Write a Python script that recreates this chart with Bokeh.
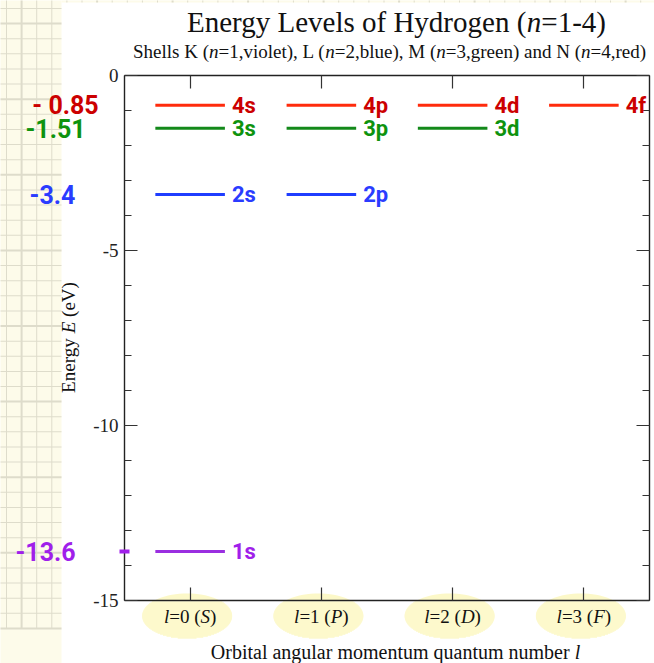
import math
from bokeh.plotting import figure
from bokeh.models import (Range1d, LinearAxis, FixedTicker, CustomJSTickFormatter,
                          ColumnDataSource, Grid)
from bokeh.core.properties import value
from bokeh.embed import file_html
from bokeh.resources import INLINE

# ---------------- data ----------------
n_levels = [1, 2, 3, 4]
shell_names = ["K", "L", "M", "N"]
shell_color_names = ["violet", "blue", "green", "red"]
energies_eV = [-13.6, -3.4, -1.51, -0.85]
shell_colors = ["#9a2fe0", "#1f3dff", "#13891a", "#ff2b0c"]
note_colors = ["#a01fea", "#2a3cff", "#0e930e", "#cc0000"]
energy_notes = ["-13.6", "-3.4", "-1.51", "- 0.85"]
l_values = [0, 1, 2, 3]
orbital_letters = ["S", "P", "D", "F"]
sub_letters = ["s", "p", "d", "f"]
y_major_ticks = [0, -5, -10, -15]
y_minor_ticks = list(range(-15, 1))

# ---------------- layout helpers ----------------
W, H = 654, 663
FL, FR, FT, FB = 124, 649, 75, 600
X0, X1 = -0.5, 3.5
Y0, Y1 = -15.0, 0.0
MID = 0.3375  # em-box middle above the baseline (Times metrics)


def px2x(px):
    return X0 + (px - FL) / (FR - FL) * (X1 - X0)


def px2y(py):
    return Y1 - (py - FT) / (FB - FT) * (Y1 - Y0)


def x2px(x):
    return FL + (x - X0) / (X1 - X0) * (FR - FL)


ROMAN = dict(zip(" (),-.=0123456789", [250, 333, 333, 250, 333, 250, 564] + [500] * 10))
ROMAN.update(zip("ABCDEFGHIJKLMNOPQRSTUVWXYZ",
                 [722, 667, 667, 722, 611, 556, 722, 722, 333, 389, 722, 611, 889,
                  722, 722, 556, 722, 667, 556, 611, 722, 722, 944, 722, 722, 611]))
ROMAN.update(zip("abcdefghijklmnopqrstuvwxyz",
                 [444, 500, 444, 500, 444, 333, 500, 500, 278, 278, 500, 278, 778,
                  500, 500, 500, 500, 333, 389, 278, 500, 500, 722, 500, 500, 444]))
ITAL = {"n": 500, "l": 278, "E": 611, "S": 500, "P": 611, "D": 722, "F": 611}

SERIF = "Liberation Serif"
HAND = "Roboto"


def tw(s, size, it=False):
    t = ITAL if it else ROMAN
    return sum(t.get(c, 500) for c in s) * size / 1000.0


p = figure(width=W, height=H, x_range=Range1d(X0, X1), y_range=Range1d(Y0, Y1),
           output_backend="svg", toolbar_location=None,
           x_axis_location=None, y_axis_location=None,
           min_border_left=FL, min_border_right=W - FR,
           min_border_top=FT, min_border_bottom=H - FB)
p.title.visible = False
p.outline_line_color = None
p.background_fill_color = "white"
p.border_fill_color = "white"
for g in list(p.center):
    if isinstance(g, Grid):
        g.visible = False


def put_text(x, y, s, size, color, italic=False, font=SERIF, bold=False,
             angle=0.0, align="left", baseline="middle", x_offset=0):
    style = "bold" if bold else ("italic" if italic else "normal")
    p.text(x=[x], y=[y], text=[s], text_font=value(font),
           text_font_size=f"{size}px", text_font_style=style, text_color=color,
           angle=angle, text_align=align, text_baseline=baseline,
           x_offset=x_offset, level="overlay")


def rich(segs, c, base, size, color="#111111", vertical=False):
    """Mixed roman/italic text; c = centre along the line, base = baseline (px)."""
    total = sum(tw(s, size, it) for s, it in segs)
    mid = base + MID * size if vertical else base - MID * size
    pos = c + total / 2 if vertical else c - total / 2
    for s, it in segs:
        lead = tw(s[:len(s) - len(s.lstrip(" "))], size, it)
        body = s.strip(" ")
        if body:
            if vertical:
                put_text(px2x(base - MID * size), px2y(pos - lead), body, size, color,
                         italic=it, angle=math.pi / 2)
            else:
                put_text(px2x(pos + lead), px2y(mid), body, size, color, italic=it)
        pos = pos - tw(s, size, it) if vertical else pos + tw(s, size, it)


# ---------------- grid-paper strip on the left (and along the top edge) ----------------
CREAM = "#fdfbea"
GRIDC = "#dedccb"
p.quad(left=[px2x(0), px2x(61)], right=[px2x(61), px2x(W)],
       top=[px2y(0), px2y(0)], bottom=[px2y(H), px2y(2)],
       fill_color=CREAM, line_color=None, level="guide")
vl, vr, vt, vb = [], [], [], []
for k in range(44):
    xc = 6 + 15.1 * k
    w = 2.0 if k % 5 == 1 else 1.0
    vl.append(px2x(xc - w / 2)); vr.append(px2x(xc + w / 2))
    vt.append(px2y(0)); vb.append(px2y(628 if xc < 61 else 2))
for k in range(42):
    yc = 8 + 15.12 * k
    w = 2.0 if k % 5 == 1 else 1.0
    vl.append(px2x(0)); vr.append(px2x(61))
    vt.append(px2y(yc - w / 2)); vb.append(px2y(yc + w / 2))
p.quad(left=vl, right=vr, top=vt, bottom=vb, fill_color=GRIDC, line_color=None,
       level="guide")

# ---------------- yellow highlights behind the x tick labels ----------------
YEL = "#fcf8c8"
full_xs, full_ys = [], []
bl, br, bt, bb = [], [], [], []
for l in l_values:
    cx, cy, a, b = x2px(l) - 3, 615.5, 45.0, 22.5
    full_xs.append([px2x(cx + a * math.cos(2 * math.pi * i / 72)) for i in range(72)])
    full_ys.append([px2y(cy + b * math.sin(2 * math.pi * i / 72)) for i in range(72)])
    for row in range(601, 639):
        dy = (row + 0.5 - cy) / b
        if abs(dy) >= 1:
            continue
        hw = a * math.sqrt(1 - dy * dy)
        bl.append(px2x(cx - hw)); br.append(px2x(cx + hw))
        bt.append(px2y(row - 0.15)); bb.append(px2y(row + 1.15))
# part inside the frame (clipped, under the axis line)
p.patches(xs=full_xs, ys=full_ys, fill_color=YEL, line_color=None, level="underlay")
# part below the axis line
p.quad(left=bl, right=br, top=bt, bottom=bb, fill_color=YEL, line_color=None,
       level="guide")

# ---------------- axes ----------------
yt = FixedTicker(ticks=y_major_ticks, minor_ticks=y_minor_ticks)
xt = FixedTicker(ticks=l_values, minor_ticks=[])
common = dict(axis_line_color="#222222", axis_line_width=1.4,
              major_tick_in=13, major_tick_out=0, minor_tick_in=7, minor_tick_out=0,
              major_tick_line_color="#333333", minor_tick_line_color="#333333",
              major_tick_line_width=1.2, minor_tick_line_width=1.2)
blank = dict(formatter=CustomJSTickFormatter(code="return ''"),
             major_label_text_font_size="0px", major_label_standoff=0)

left_ax = LinearAxis(ticker=yt, major_label_text_font=SERIF,
                     major_label_text_font_size="19px", major_label_text_color="#222222",
                     major_label_standoff=6,
                     major_label_overrides={t: str(t) for t in y_major_ticks}, **common)
p.add_layout(left_ax, "left")
p.add_layout(LinearAxis(ticker=yt, **common, **blank), "right")
p.add_layout(LinearAxis(ticker=xt, **common, **blank), "below")
p.add_layout(LinearAxis(ticker=xt, **common, **blank), "above")

# ---------------- energy levels ----------------
half = 0.265
rows = dict(x0=[], x1=[], y=[], color=[], name=[], note=[])
for n, E, col, ncol in zip(n_levels, energies_eV, shell_colors, note_colors):
    for l in l_values[:n]:
        rows["x0"].append(l - half)
        rows["x1"].append(l + half)
        rows["y"].append(E)
        rows["color"].append(col)
        rows["name"].append(f"{n}{sub_letters[l]}")
        rows["note"].append(ncol)
src = ColumnDataSource(rows)
p.segment(x0="x0", y0="y", x1="x1", y1="y", color="color", line_width=3,
          line_cap="butt", source=src)

for x1, y, name, ncol in zip(rows["x1"], rows["y"], rows["name"], rows["note"]):
    put_text(x1, y, name, 22, ncol, font=HAND, bold=True, x_offset=7)

# hand-written energy values on the left
note_cx = [45, 52, 55, 65]
for E, txt, ncol, cx in zip(energies_eV, energy_notes, note_colors, note_cx):
    put_text(px2x(cx), E, txt, 25, ncol, font=HAND, bold=True, align="center")

# purple mark on the axis at the ground state
p.segment(x0=[px2x(119)], x1=[px2x(129)], y0=[energies_eV[0]], y1=[energies_eV[0]],
          line_color=note_colors[0], line_width=4, level="overlay")

# ---------------- texts ----------------
rich([("Energy Levels of Hydrogen (", False), ("n", True), ("=1-4)", False)],
     396, 31, 29)
sub = []
for i, (nm, n, cname) in enumerate(zip(shell_names, n_levels, shell_color_names)):
    pre = "Shells " if i == 0 else (" and " if i == 3 else ", ")
    sub.append((f"{pre}{nm} (", False))
    sub.append(("n", True))
    sub.append((f"={n},{cname})", False))
rich(sub, 389, 57, 19)

for l, L in zip(l_values, orbital_letters):
    rich([("l", True), (f"={l} (", False), (L, True), (")", False)], x2px(l), 622, 19)

rich([("Orbital angular momentum quantum number ", False), ("l", True)], 395, 658, 20)
rich([("Energy ", False), ("E", True), (" (eV)", False)], 337, 74, 19, vertical=True)

open("out.html", "w").write(file_html(p, INLINE))
